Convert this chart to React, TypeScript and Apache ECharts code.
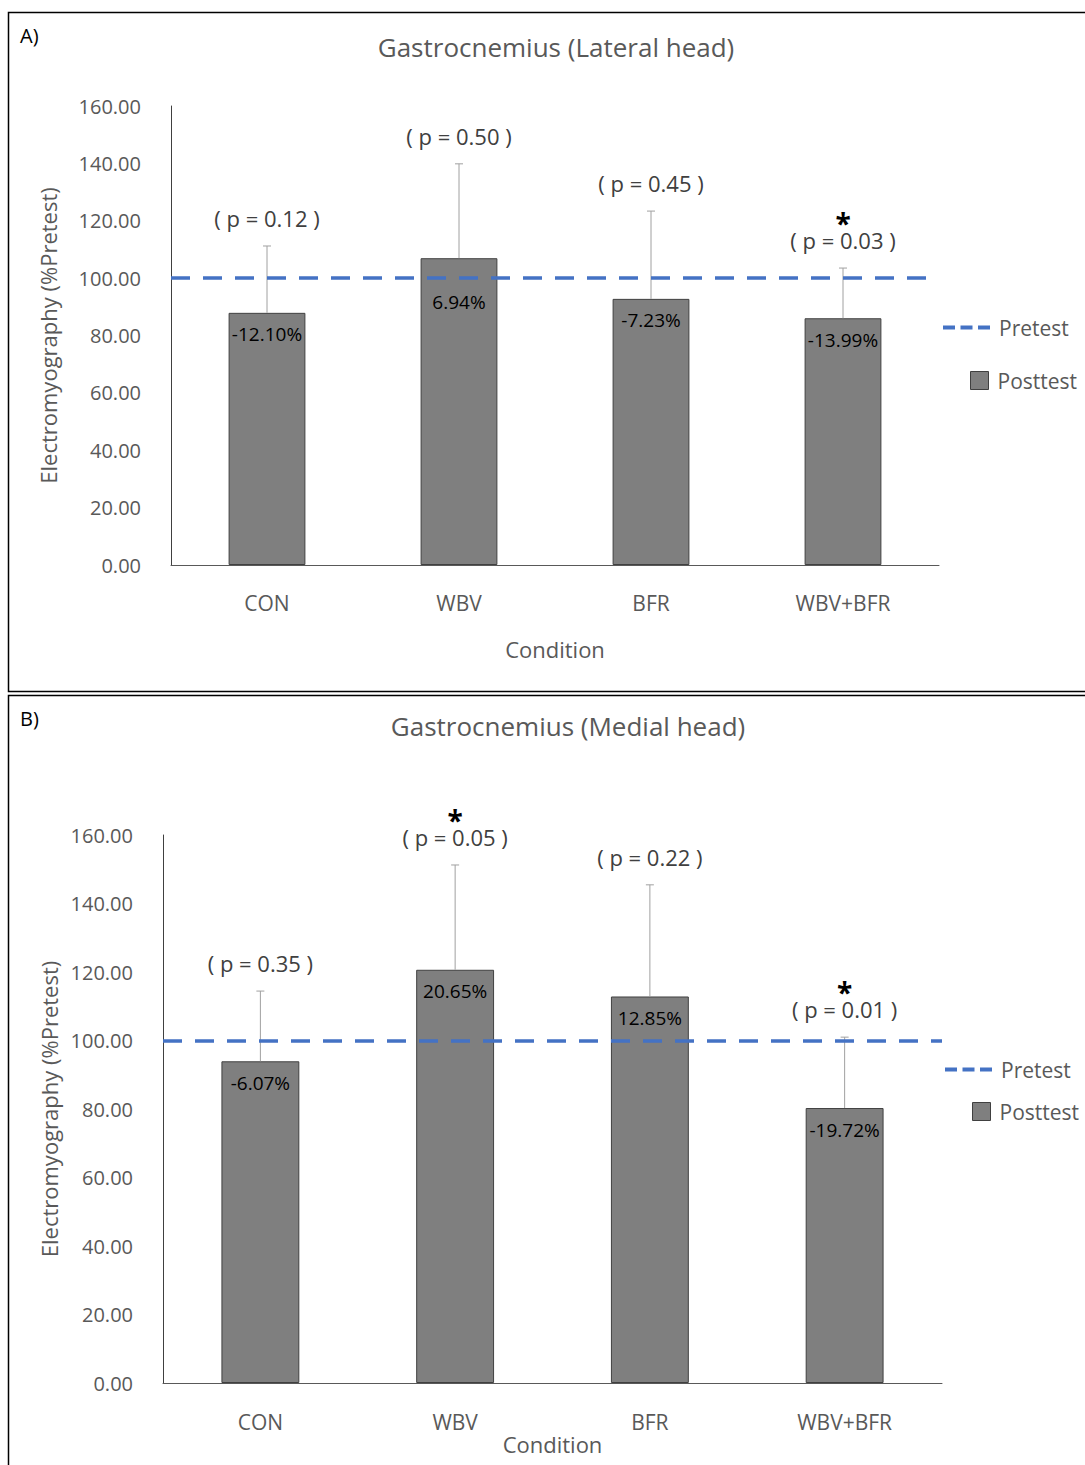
import React, { useEffect, useRef } from "react";
import * as echarts from "echarts";

// Conditions on the x axis
const CATEGORIES = ["CON", "WBV", "BFR", "WBV+BFR"];

// Pretest reference level (% of pretest)
const PRETEST_LEVEL = 100;

// A) Lateral head: percent change posttest vs pretest, SD, p values
const CHANGE_LATERAL = [-12.1, 6.94, -7.23, -13.99];
const SD_LATERAL = [23.3, 32.9, 30.6, 17.5];
const P_LATERAL = ["0.12", "0.50", "0.45", "0.03"];
const SIG_LATERAL = [false, false, false, true];

// B) Medial head
const CHANGE_MEDIAL = [-6.07, 20.65, 12.85, -19.72];
const SD_MEDIAL = [20.5, 30.6, 32.6, 20.7];
const P_MEDIAL = ["0.35", "0.05", "0.22", "0.01"];
const SIG_MEDIAL = [false, true, false, true];

// Y axis ticks
const Y_MIN = 0;
const Y_MAX = 160;
const Y_STEP = 20;

const FONT = "'Open Sans', 'Noto Sans', sans-serif";
const GRAY_TEXT = "#595959";
const BAR_FILL = "#7f7f7f";
const BAR_EDGE = "#404040";
const BLUE = "#4472c4";

// three short dashes used as the legend key of the pretest line
const DASH_ICON = "path://M0,0h12v4h-12z M17.5,0h12v4h-12z M35,0h12v4h-12z";

function fmtPct(v: number) {
  return v.toFixed(2) + "%";
}

function buildPanel(
  idx: number,
  change: number[],
  sd: number[],
  pvals: string[],
  sig: boolean[]
) {
  const post = change.map((c) => +(PRETEST_LEVEL + c).toFixed(2));
  const errData = post.map((m, i) => [i, m, m + sd[i]]);

  // a value label that would sit on the pretest line is pushed below it
  const barData = post.map((v) => {
    const nearLine = v > PRETEST_LEVEL && v - PRETEST_LEVEL < 10;
    return nearLine ? { value: v, label: { distance: 34 } } : v;
  });

  const bar = {
    type: "bar",
    name: "Posttest",
    xAxisIndex: idx,
    yAxisIndex: idx,
    data: barData,
    barWidth: "40%",
    itemStyle: { color: BAR_FILL, borderColor: BAR_EDGE, borderWidth: 1 },
    label: {
      show: true,
      position: "insideTop",
      distance: 12,
      formatter: (p: any) => fmtPct(change[p.dataIndex]),
      color: "#000",
      fontSize: 19,
      fontFamily: FONT,
    },
    z: 2,
  };

  const errors = {
    type: "custom",
    name: "SD",
    xAxisIndex: idx,
    yAxisIndex: idx,
    data: errData,
    clip: false,
    z: 3,
    renderItem: (params: any, api: any) => {
      const base = api.coord([api.value(0), api.value(1)]);
      const top = api.coord([api.value(0), api.value(2)]);
      const i = params.dataIndex;
      const labelY = top[1] - 28;
      const children: any[] = [
        {
          type: "line",
          shape: { x1: base[0], y1: base[1], x2: top[0], y2: top[1] },
          style: { stroke: "#a0a0a0", lineWidth: 1 },
        },
        {
          type: "line",
          shape: { x1: top[0] - 4, y1: top[1], x2: top[0] + 4, y2: top[1] },
          style: { stroke: "#a0a0a0", lineWidth: 1 },
        },
        {
          type: "text",
          x: top[0],
          y: labelY,
          style: {
            text: "( p = " + pvals[i] + " )",
            fill: "#404040",
            font: "22px " + FONT,
            textAlign: "center",
            textVerticalAlign: "middle",
          },
        },
      ];
      if (sig[i]) {
        children.push({
          type: "text",
          x: top[0],
          y: labelY - 17,
          style: {
            text: "*",
            fill: "#000",
            font: "bold 28px " + FONT,
            textAlign: "center",
            textVerticalAlign: "middle",
          },
        });
      }
      return { type: "group", children };
    },
  };

  const pretest = {
    type: "line",
    name: "Pretest",
    xAxisIndex: idx,
    yAxisIndex: idx,
    data: [],
    symbol: "none",
    itemStyle: { color: BLUE },
    lineStyle: { color: BLUE, width: 3.5, type: [19, 13] },
    markLine: {
      silent: true,
      symbol: ["none", "none"],
      label: { show: false },
      lineStyle: { color: BLUE, width: 3.5, type: [19, 13] },
      data: [{ yAxis: PRETEST_LEVEL }],
    },
    z: 4,
  };

  return [bar, errors, pretest];
}

function axisPair(idx: number, labelMargin: number, yNameGap: number, xNameGap: number) {
  const xAxis = {
    type: "category",
    gridIndex: idx,
    data: CATEGORIES,
    name: "Condition",
    nameLocation: "middle",
    nameGap: xNameGap,
    nameTextStyle: { color: GRAY_TEXT, fontSize: 22, fontFamily: FONT },
    axisLine: { show: true, lineStyle: { color: GRAY_TEXT, width: 1 } },
    axisTick: { show: false },
    axisLabel: { color: GRAY_TEXT, fontSize: 21, fontFamily: FONT, margin: labelMargin },
  };
  const yAxis = {
    type: "value",
    gridIndex: idx,
    min: Y_MIN,
    max: Y_MAX,
    interval: Y_STEP,
    name: "Electromyography (%Pretest)",
    nameLocation: "middle",
    nameGap: yNameGap,
    nameTextStyle: { color: GRAY_TEXT, fontSize: 22, fontFamily: FONT },
    axisLine: { show: true, lineStyle: { color: "#404040", width: 1 } },
    axisTick: { show: false },
    splitLine: { show: false },
    axisLabel: {
      color: GRAY_TEXT,
      fontSize: 20,
      fontFamily: FONT,
      margin: 30,
      formatter: (v: number) => v.toFixed(2),
    },
  };
  return { xAxis, yAxis };
}

function legendItem(name: string, left: number, top: number, bar: boolean) {
  const base: any = {
    left,
    top,
    padding: 0,
    selectedMode: false,
    textStyle: { color: GRAY_TEXT, fontSize: 21, fontFamily: FONT, padding: [0, 0, 0, 4] },
  };
  if (bar) {
    base.data = [{ name, icon: "rect" }];
    base.itemWidth = 18;
    base.itemHeight = 18;
    base.itemStyle = { color: BAR_FILL, borderColor: BAR_EDGE, borderWidth: 1 };
  } else {
    base.data = [{ name, icon: DASH_ICON }];
    base.itemWidth = 47;
    base.itemHeight = 4;
    base.itemStyle = { color: BLUE, borderWidth: 0 };
  }
  return base;
}

export default function App() {
  const ref = useRef<HTMLDivElement>(null);

  useEffect(() => {
    if (!ref.current) return;
    const chart = echarts.init(ref.current, null, { renderer: "svg" });

    const a = axisPair(0, 27, 112, 73);
    const b = axisPair(1, 28, 92, 49);

    chart.setOption({
      animation: false,
      backgroundColor: "#fff",
      title: [
        {
          text: "Gastrocnemius (Lateral head)",
          left: 551,
          top: 29,
          textAlign: "center",
          textStyle: { color: GRAY_TEXT, fontSize: 26, fontWeight: "normal", fontFamily: FONT },
        },
        {
          text: "Gastrocnemius (Medial head)",
          left: 563,
          top: 708,
          textAlign: "center",
          textStyle: { color: GRAY_TEXT, fontSize: 26, fontWeight: "normal", fontFamily: FONT },
        },
      ],
      grid: [
        { left: 171, top: 106, width: 768, height: 459 },
        { left: 163, top: 835, width: 779, height: 548 },
      ],
      xAxis: [a.xAxis, b.xAxis],
      yAxis: [a.yAxis, b.yAxis],
      legend: [
        legendItem("Pretest", 943, 317, false),
        legendItem("Posttest", 970, 370, true),
        legendItem("Pretest", 945, 1059, false),
        legendItem("Posttest", 972, 1101, true),
      ],
      series: [
        ...buildPanel(0, CHANGE_LATERAL, SD_LATERAL, P_LATERAL, SIG_LATERAL),
        ...buildPanel(1, CHANGE_MEDIAL, SD_MEDIAL, P_MEDIAL, SIG_MEDIAL),
      ],
      graphic: [
        {
          type: "rect",
          shape: { x: 8.5, y: 12.5, width: 1090, height: 679 },
          style: { fill: "none", stroke: "#000", lineWidth: 1.5 },
          silent: true,
        },
        {
          type: "rect",
          shape: { x: 8.5, y: 695.5, width: 1090, height: 800 },
          style: { fill: "none", stroke: "#000", lineWidth: 1.5 },
          silent: true,
        },
        {
          type: "text",
          x: 20,
          y: 35,
          style: { text: "A)", fill: "#000", font: "20px " + FONT, textVerticalAlign: "middle" },
        },
        {
          type: "text",
          x: 20,
          y: 718,
          style: { text: "B)", fill: "#000", font: "20px " + FONT, textVerticalAlign: "middle" },
        },
      ],
    });

    return () => chart.dispose();
  }, []);

  return (
    <div
      ref={ref}
      style={{ position: "absolute", left: 0, top: 0, width: 1085, height: 1465 }}
    />
  );
}
